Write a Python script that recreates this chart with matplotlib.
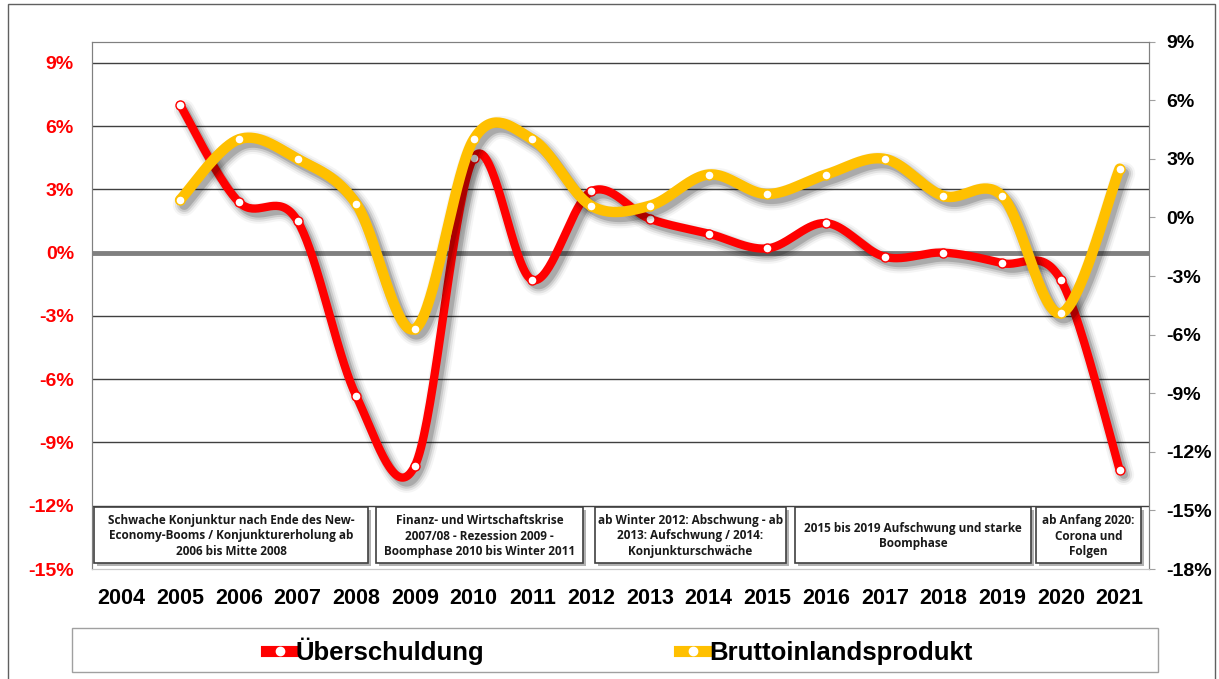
import matplotlib
matplotlib.use('Agg')
import matplotlib.pyplot as plt
import matplotlib.patheffects as pe
from matplotlib.patches import Rectangle
from matplotlib.lines import Line2D
import numpy as np

plt.rcParams['font.family'] = ['Liberation Sans', 'DejaVu Sans']

# Daten
years = [str(y) for y in range(2004, 2022)]
ueberschuldung = [np.nan, 7.0, 2.4, 1.5, -6.8, -10.1, 4.5, -1.3, 2.9, 1.6, 0.9, 0.2, 1.4, -0.2, 0.0, -0.5, -1.3, -10.3]
bip = [np.nan, 0.9, 4.0, 3.0, 0.7, -5.7, 4.0, 4.0, 0.6, 0.6, 2.2, 1.2, 2.2, 3.0, 1.1, 1.1, -4.9, 2.5]
left_ticks = list(range(-15, 10, 3))
right_ticks = list(range(-18, 10, 3))

phasen = [
    "Schwache Konjunktur nach Ende des New-\nEconomy-Booms / Konjunkturerholung ab\n2006 bis Mitte 2008",
    "Finanz- und Wirtschaftskrise\n2007/08 - Rezession 2009 -\nBoomphase 2010 bis Winter 2011",
    "ab Winter 2012: Abschwung - ab\n2013: Aufschwung / 2014:\nKonjunkturschwäche",
    "2015 bis 2019 Aufschwung und starke\nBoomphase",
    "ab Anfang 2020:\nCorona und\nFolgen",
]
# Boxen in Pixeln (links, rechts)
phasen_x = [(94, 368), (376, 583), (595, 786), (795, 1031), (1036, 1141)]

RED = '#ff0000'
YEL = '#ffc000'
W, H = 1219, 679


def smooth(x, y, n=40):
    # Bezier-Glaettung wie bei Excel-Linien
    x = np.asarray(x, float)
    y = np.asarray(y, float)
    xs, ys = [], []
    t = np.linspace(0, 1, n)
    for i in range(len(x) - 1):
        a = max(i - 1, 0)
        b = min(i + 2, len(x) - 1)
        c1x = x[i] + (x[i + 1] - x[a]) / 6
        c1y = y[i] + (y[i + 1] - y[a]) / 6
        c2x = x[i + 1] - (x[b] - x[i]) / 6
        c2y = y[i + 1] - (y[b] - y[i]) / 6
        bx = (1-t)**3*x[i] + 3*(1-t)**2*t*c1x + 3*(1-t)*t**2*c2x + t**3*x[i+1]
        by = (1-t)**3*y[i] + 3*(1-t)**2*t*c1y + 3*(1-t)*t**2*c2y + t**3*y[i+1]
        xs.extend(bx)
        ys.extend(by)
    return xs, ys


def shadow(lw):
    eff = [pe.SimpleLineShadow(offset=(3, -3.5), shadow_color='black', alpha=a, linewidth=lw + w)
           for w, a in [(9, 0.04), (6, 0.07), (3, 0.1), (0, 0.16)]]
    return eff + [pe.Normal()]


fig = plt.figure(figsize=(W / 100, H / 100), dpi=100)
fig.patch.set_facecolor('white')
ax = fig.add_axes([92 / W, 1 - 569 / H, (1149 - 92) / W, (569 - 41.7) / H])
ax2 = ax.twinx()

idx = np.arange(len(years))
ax.set_xlim(-0.5, len(years) - 0.5)
ax.set_ylim(-15, 10)
ax2.set_ylim(-18, 9)

for v in left_ticks[1:]:
    if v != 0:
        ax.axhline(v, color='#404040', lw=1, zorder=1)
ax.axhline(0, color='#808080', lw=3.5, zorder=1.5)

# Ueberschuldung (linke Achse)
m = ~np.isnan(ueberschuldung)
sx, sy = smooth(idx[m], np.array(ueberschuldung)[m])
ax.plot(sx, sy, color=RED, lw=6, solid_capstyle='round', path_effects=shadow(6), zorder=3)
ax.plot(idx[m], np.array(ueberschuldung)[m], 'o', ms=6.5, mfc='white', mec=RED, mew=1, zorder=4)

# BIP (rechte Achse)
m2 = ~np.isnan(bip)
bx, by = smooth(idx[m2], np.array(bip)[m2])
ax2.plot(bx, by, color=YEL, lw=7.5, solid_capstyle='round', path_effects=shadow(7.5), zorder=3)
ax2.plot(idx[m2], np.array(bip)[m2], 'o', ms=6.5, mfc='white', mec=YEL, mew=1, zorder=4)

ax.set_xticks(idx)
ax.set_xticklabels(years, fontsize=15.5, fontweight='bold')
ax.tick_params(axis='x', length=0, pad=14)
ax.set_yticks(left_ticks)
ax.set_yticklabels([f"{v}%" for v in left_ticks], fontsize=14, fontweight='bold', color=RED)
ax.tick_params(axis='y', length=0, pad=13)
ax2.set_yticks(right_ticks)
ax2.set_yticklabels([f"{v}%" for v in right_ticks], fontsize=14, fontweight='bold', color='black')
ax2.tick_params(axis='y', length=4.5, color='#a0a0a0', pad=8)

for a in (ax, ax2):
    for s in ('left', 'top', 'right'):
        a.spines[s].set_color('#808080')
    a.spines['bottom'].set_color('#c8c8c8')

# Phasen-Boxen
for (x0, x1), txt in zip(phasen_x, phasen):
    r = Rectangle((x0 / W, 1 - 563 / H), (x1 - x0) / W, 56 / H, transform=fig.transFigure,
                  facecolor='white', edgecolor='#404040', lw=1.2, zorder=10,
                  path_effects=[pe.SimplePatchShadow(offset=(2.5, -2.5), shadow_rgbFace='#808080', alpha=0.6),
                                pe.Normal()])
    fig.add_artist(r)
    fig.text((x0 + x1) / 2 / W, 1 - 536 / H, txt, ha='center', va='center', fontsize=8.5,
             fontweight='bold', family=['Open Sans', 'DejaVu Sans'], color='#1a1a1a',
             linespacing=1.25, zorder=11)

# Legende
fig.add_artist(Rectangle((72 / W, 1 - 672 / H), (1158 - 72) / W, 44 / H, transform=fig.transFigure,
                         facecolor='white', edgecolor='#a0a0a0', lw=1))
handles = [Line2D([], [], color=RED, lw=8, marker='o', ms=6, mfc='white', mec='white'),
           Line2D([], [], color=YEL, lw=8, marker='o', ms=6, mfc='white', mec='white')]
fig.legend(handles, ['Überschuldung', 'Bruttoinlandsprodukt'], loc='center',
           bbox_to_anchor=(619 / W, 1 - 651 / H), ncol=2, frameon=False,
           prop={'size': 18.5, 'weight': 'bold'}, handlelength=1.1, handletextpad=0.05,
           columnspacing=7.6)

# Rahmen
fig.add_artist(Rectangle((8 / W, -0.01), (1215 - 8) / W, 1 - 4 / H + 0.01, transform=fig.transFigure,
                         facecolor='none', edgecolor='#606060', lw=1))

plt.savefig('out.png', dpi=100)
